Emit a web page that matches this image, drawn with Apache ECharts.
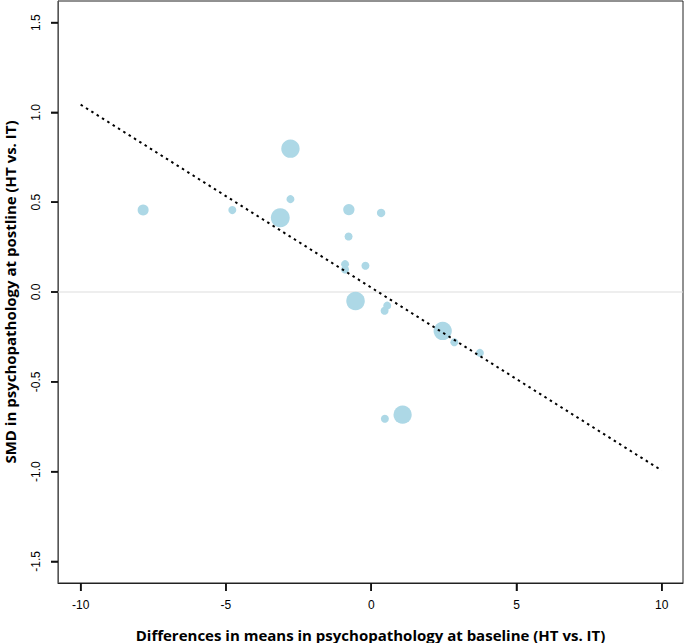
<!DOCTYPE html>
<html>
<head>
<meta charset="utf-8">
<script src="https://cdn.jsdelivr.net/npm/echarts@6/dist/echarts.min.js"></script>
<style>html,body{margin:0;padding:0;background:#fff}#c{width:685px;height:643px}</style>
</head>
<body>
<div id="c"></div>
<script>
// Data
const baselineDiff = [-7.85, -4.78, -3.13, -2.78, -2.78, -0.77, 0.34, -0.78, -0.90, -0.90, -0.20, -0.54, 0.55, 0.46, 2.46, 2.86, 3.74, 1.08, 0.47];
const smdPost      = [0.456, 0.456, 0.413, 0.798, 0.517, 0.459, 0.44, 0.309, 0.155, 0.125, 0.146, -0.05, -0.076, -0.104, -0.217, -0.28, -0.339, -0.683, -0.706];
const studyWeight  = [1.9, 1.0, 5.6, 5.3, 1.0, 2.0, 1.1, 1.0, 1.0, 1.0, 1.0, 5.4, 1.0, 1.0, 5.2, 1.0, 1.0, 5.2, 1.0];
const regX = [-10, 10];
const regY = [1.043, -0.994];
const xTicks = [-10, -5, 0, 5, 10];
const yTicks = [-1.5, -1.0, -0.5, 0.0, 0.5, 1.0, 1.5];

const X_MIN = -10.78, X_MAX = 10.73, Y_MIN = -1.62, Y_MAX = 1.62;

const points = baselineDiff.map((x, i) => [x, smdPost[i], studyWeight[i]]);
const regLine = regX.map((x, i) => [x, regY[i]]);

const chart = echarts.init(document.getElementById('c'), null, { renderer: 'svg' });
chart.setOption({
  animation: false,
  grid: { left: 58, right: 2, top: 1, bottom: 60, outerBoundsMode: 'none', containLabel: false, show: true, borderColor: '#222', borderWidth: 1, backgroundColor: 'transparent' },
  xAxis: {
    type: 'value', min: X_MIN, max: X_MAX,
    name: 'Differences in means in psychopathology at baseline (HT vs. IT)',
    nameLocation: 'middle', nameGap: 44,
    nameTextStyle: { fontFamily: 'Open Sans', fontWeight: 'bold', fontSize: 15, color: '#000' },
    axisLine: { show: true, onZero: false, lineStyle: { color: '#222', width: 1 } },
    splitLine: { show: false },
    axisTick: { show: true, inside: false, customValues: xTicks, length: 8, lineStyle: { color: '#111', width: 1.5 } },
    axisLabel: { customValues: xTicks, margin: 16, fontFamily: 'Liberation Sans', fontSize: 12, color: '#000', formatter: v => String(v) }
  },
  yAxis: {
    type: 'value', min: Y_MIN, max: Y_MAX,
    name: 'SMD in psychopathology at postline (HT vs. IT)',
    nameLocation: 'middle', nameGap: 41, nameRotate: 90,
    nameTextStyle: { fontFamily: 'Open Sans', fontWeight: 'bold', fontSize: 15, color: '#000' },
    axisLine: { show: true, onZero: false, lineStyle: { color: '#555', width: 1 } },
    splitLine: { show: false },
    axisTick: { show: true, inside: false, customValues: yTicks, length: 7, lineStyle: { color: '#111', width: 1.5 } },
    axisLabel: { customValues: yTicks, rotate: 90, margin: 16, fontFamily: 'Liberation Sans', fontSize: 12, color: '#000', formatter: v => v.toFixed(1) }
  },
  series: [
    {
      type: 'line', data: [[X_MIN, 0], [X_MAX, 0]], symbol: 'none', silent: true,
      lineStyle: { color: '#dddddd', width: 1 }, z: 1
    },
    {
      type: 'scatter', data: points,
      symbolSize: d => 8 * Math.sqrt(d[2]),
      itemStyle: { color: '#ADD8E6', opacity: 1 }, z: 2
    },
    {
      type: 'line', data: regLine, symbol: 'none', silent: true,
      lineStyle: { color: '#000', width: 2, type: [2.5, 3.8], cap: 'butt' }, z: 3
    }
  ]
});

// Backup tick marks outside the plot box, positioned through the chart's own scales
const tickEls = [];
xTicks.forEach(v => {
  const p = chart.convertToPixel({ xAxisIndex: 0, yAxisIndex: 0 }, [v, Y_MIN]);
  tickEls.push({ type: 'rect', silent: true, z: 100, shape: { x: p[0] - 0.75, y: p[1], width: 1.5, height: 8 }, style: { fill: '#111' } });
});
yTicks.forEach(v => {
  const p = chart.convertToPixel({ xAxisIndex: 0, yAxisIndex: 0 }, [X_MIN, v]);
  tickEls.push({ type: 'rect', silent: true, z: 100, shape: { x: p[0] - 7, y: p[1] - 0.75, width: 7, height: 1.5 }, style: { fill: '#111' } });
});
chart.setOption({ graphic: tickEls });
</script>
</body>
</html>
